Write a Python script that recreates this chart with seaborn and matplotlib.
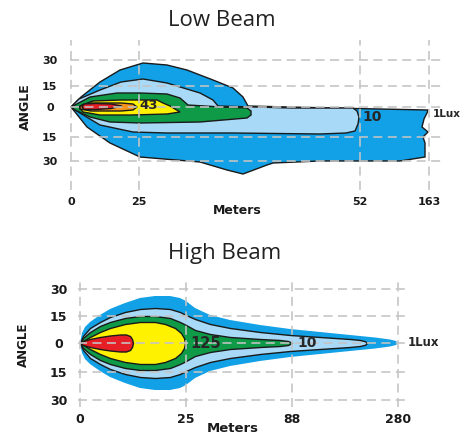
import seaborn as sns
import matplotlib.pyplot as plt

# ---- Low Beam (positions along the drawn axes) ----
low_xticks = [0, 68, 289, 358]
low_xlabels = ["0", "25", "52", "163"]
low_yticks = [47, 21, 0, -30, -54]
angle_labels = ["30", "15", "0", "15", "30"]

# outlines of each lux zone, 1 Lux (outer) -> hot spot
low_1lux_x = [0, 10, 29, 49, 72, 96, 116, 142, 162, 172, 177, 260, 357,
              356, 353, 351, 357, 352, 354, 354,
              329, 249, 202, 196, 172, 156, 129, 69, 39, 16]
low_1lux_y = [0, 10, 25, 37, 44, 42, 37, 27, 19, 10, 1, -1, -3,
              -6, -12, -20, -25, -30, -36, -50,
              -54, -54, -56, -58, -67, -63, -55, -50, -36, -20]
low_10lux_x = [0, 8, 29, 50, 72, 96, 129, 142, 147, 220, 282,
               286, 288, 287, 284,
               275, 249, 162, 96, 62, 29, 9]
low_10lux_y = [0, 8, 17, 25, 28, 24, 14, 7, 1, -1, -1,
               -4, -10, -17, -24,
               -26, -27, -26, -26, -25, -18, -6]
low_green_x = [0, 19, 46, 69, 96, 109, 117, 150, 176, 180, 180, 176, 129, 69, 39, 19, 4]
low_green_y = [0, 10, 14, 14, 13, 9, 2, 0, -1, -4, -8, -11, -15, -16, -15, -10, -3]
low_43lux_x = [8, 11, 22, 50, 86, 92, 99, 109, 96, 60, 29, 12]
low_43lux_y = [0, 2, 6, 7, 7, 4, 1, -5, -7, -8, -8, -5]
low_orange_x = [9, 20, 50, 62, 66, 62, 50, 20, 9]
low_orange_y = [1, 4, 4, 3, 0, -3, -4, -4, -2]
low_red_x = [11, 13, 25, 40, 51, 40, 25, 13]
low_red_y = [0, 3, 3.5, 3, 1, -1.5, -2.5, -2.5]

# ---- High Beam (symmetric half widths) ----
high_xticks = [0, 106, 212, 318]
high_xlabels = ["0", "25", "88", "280"]
high_yticks = [54, 27, 0, -29, -57]

high_1lux_x = [0, 2, 5, 10, 20, 30, 45, 60, 75, 90, 100, 106, 115, 130, 150, 180, 210, 240, 270, 295, 310, 316, 318]
high_1lux_h = [0, 10, 16, 21, 28, 34, 40, 45, 47, 47, 45, 42, 35, 28, 23, 18, 14, 11, 8, 5.5, 3.5, 2, 0]
high_10lux_x = [0, 3, 10, 20, 30, 45, 60, 75, 90, 100, 106, 115, 130, 150, 180, 210, 240, 270, 280, 285, 287]
high_10lux_h = [0, 7, 15, 21, 26, 31, 34, 35, 34, 31, 28, 24, 19, 15, 11, 8, 6, 4, 3, 1.8, 0]
high_green_x = [0, 3, 10, 20, 30, 45, 60, 75, 90, 100, 106, 115, 130, 150, 180, 200, 208, 212]
high_green_h = [0, 5, 11, 17, 21, 25, 27, 27, 25, 21, 18, 13, 9, 6, 4, 3, 2, 0]
high_125lux_x = [0, 5, 10, 20, 30, 45, 60, 75, 85, 95, 101, 104, 105]
high_125lux_h = [0, 3, 6, 11, 15, 19, 21, 21, 19, 15, 10, 5, 0]
high_red_x = [0, 3, 10, 20, 30, 40, 46, 50, 52, 53]
high_red_h = [0, 2, 4, 6, 7.5, 8.5, 8.5, 7, 4, 0]

BLUE = "#12a0e6"
LBLUE = "#a8d9f6"
GREEN = "#0e9a46"
YELLOW = "#fff200"
ORANGE = "#f7941d"
RED = "#e61e26"

sns.set_theme(style="white")
plt.rcParams["font.family"] = ["DejaVu Sans"]

W, H = 474, 437
fig = plt.figure(figsize=(W / 100, H / 100), dpi=100)


def px_axes(l, r, t, b):
    return fig.add_axes([l / W, 1 - b / H, (r - l) / W, (b - t) / H])


def style(ax, xt, xl, yt, xpad, ypad, fs):
    ax.set_xticks(xt, xl, fontweight="bold", fontsize=fs, color="#1a1a1a")
    ax.set_yticks(yt, angle_labels, fontweight="bold", fontsize=fs, color="#1a1a1a",
                  ha="center")
    ax.tick_params(axis="x", length=0, pad=xpad)
    ax.tick_params(axis="y", length=0, pad=ypad)
    ax.set_axisbelow(False)
    ax.grid(True, color="#c4c4c4", ls=(0, (5, 3)), lw=1.3, alpha=0.9)
    sns.despine(ax=ax, left=True, bottom=True)


# Low beam
ax1 = px_axes(70, 445, 40, 190)
ax1.set_xlim(-1, 374)
ax1.set_ylim(-83, 67)
for xs, ys, c in [(low_1lux_x, low_1lux_y, BLUE), (low_10lux_x, low_10lux_y, LBLUE),
                  (low_green_x, low_green_y, GREEN), (low_43lux_x, low_43lux_y, YELLOW),
                  (low_orange_x, low_orange_y, ORANGE), (low_red_x, low_red_y, RED)]:
    ax1.fill(xs, ys, facecolor=c, edgecolor="#1a1a1a", lw=1.0)
style(ax1, low_xticks, low_xlabels, low_yticks, 5, 14.5, 8)
ax1.text(78, 1, "43", fontsize=9.5, fontweight="bold", ha="center", va="center", zorder=6)
ax1.text(301, -10, "10", fontsize=10, fontweight="bold", ha="center", va="center", zorder=6)
ax1.text(376, -7, "1Lux", fontsize=7.5, fontweight="bold", ha="center", va="center", zorder=6)

# High beam
ax2 = px_axes(78, 408, 280, 407)
ax2.set_xlim(-2, 328)
ax2.set_ylim(-64, 63)
for xs, hs, c, ec in [(high_1lux_x, high_1lux_h, BLUE, "none"), (high_10lux_x, high_10lux_h, LBLUE, "#1a1a1a"),
                      (high_green_x, high_green_h, GREEN, "#1a1a1a"), (high_125lux_x, high_125lux_h, YELLOW, "#1a1a1a"),
                      (high_red_x, high_red_h, RED, "#1a1a1a")]:
    ax2.fill_between(xs, [-h for h in hs], hs, facecolor=c, edgecolor=ec, lw=1.0)
style(ax2, high_xticks, high_xlabels, high_yticks, 4, 14, 9)
ax2.text(126, 0, "125", fontsize=10.5, fontweight="bold", ha="center", va="center", zorder=6)
ax2.text(227, 0, "10", fontsize=10, fontweight="bold", ha="center", va="center", zorder=6)
ax2.text(343, 0, "1Lux", fontsize=8.5, fontweight="bold", ha="center", va="center", zorder=6)

# titles and axis names
fig.text(222 / W, 1 - 20 / H, "Low Beam", fontsize=16, family="Open Sans", color="#222222",
         ha="center", va="center")
fig.text(225 / W, 1 - 254 / H, "High Beam", fontsize=16, family="Open Sans", color="#222222",
         ha="center", va="center")
fig.text(25 / W, 1 - 107 / H, "ANGLE", rotation=90, fontsize=9, fontweight="bold",
         color="#1a1a1a", ha="center", va="center")
fig.text(23 / W, 1 - 345 / H, "ANGLE", rotation=90, fontsize=8.5, fontweight="bold",
         color="#1a1a1a", ha="center", va="center")
fig.text(237 / W, 1 - 210 / H, "Meters", fontsize=9, fontweight="bold",
         color="#1a1a1a", ha="center", va="center")
fig.text(233 / W, 1 - 429 / H, "Meters", fontsize=9.5, fontweight="bold",
         color="#1a1a1a", ha="center", va="center")

fig.savefig("out.png", dpi=100)
